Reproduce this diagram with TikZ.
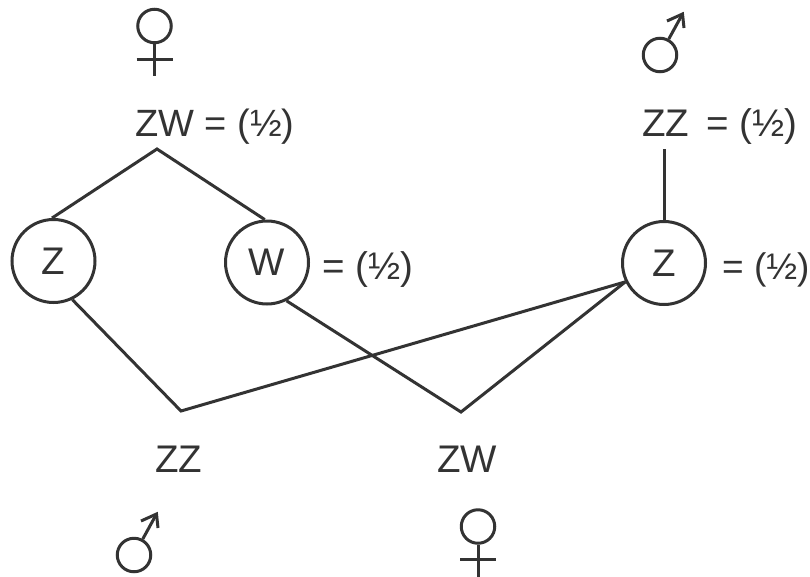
\documentclass[tikz,border=0pt]{standalone}
\usepackage{fontspec}
\setmainfont{Liberation Sans}
\definecolor{ink}{HTML}{333333}
\tikzset{
  x=1pt,y=-1pt,
  conn/.style={draw=ink,line width=3pt},
  allele/.style={circle,draw=ink,line width=3pt,minimum size=83pt,inner sep=0pt,text=ink,font=\fontsize{38.5}{38.5}\selectfont},
  lab/.style={inner sep=0pt,text=ink,font=\fontsize{38.5}{38.5}\selectfont,anchor=base west},
  midlab/.style={lab,font=\fontsize{38}{38}\selectfont},
  tightlab/.style={lab,font=\fontsize{37}{37}\selectfont},
  ring/.style={circle,draw=ink,line width=3pt,minimum size=33.5pt,inner sep=0pt},
  signline/.style={draw=ink,line width=3pt},
  pics/femalesign/.style={code={
    \node[ring] (-r) at (0,0) {};
    \coordinate (-e) at (0,50);
    \coordinate (-a) at (-18,33);
    \coordinate (-b) at (18,33);
    \draw[signline] (-r) -- (-e);
    \draw[signline] (-a) -- (-b);
  }},
  pics/malesign/.style={code={
    \node[ring] (-r) at (0,0) {};
    \coordinate (-t) at (22.5,-41);
    \coordinate (-a) at (7,-34);
    \coordinate (-b) at (24,-27);
    \draw[signline] (-r) -- (-t);
    \draw[signline,miter limit=10] (-a) -- (-t) -- (-b);
  }}
}
\begin{document}
\begin{tikzpicture}
\useasboundingbox (0,0) rectangle (810,576);
\node[allele] (zl) at (53.5,261) {\raisebox{-3pt}{Z}};
\node[allele] (w) at (267,262.5) {\raisebox{-3pt}{W}};
\node[allele] (zr) at (664,263) {\raisebox{-3pt}{Z}};
\coordinate (ptop) at (157,149);
\coordinate (zzj) at (181,411);
\coordinate (zwj) at (461,412);
\coordinate (ztop) at (664,149);
\node[midlab] (l1) at (135,136) {ZW = (½)};
\node[lab] (l2) at (642,136) {ZZ\, = (½)};
\node[lab] (l3) at (322,279) {= (½)};
\node[tightlab] (l4) at (722,279) {= (½)};
\node[lab] (l5) at (155,472) {ZZ};
\node[lab] (l6) at (437,472) {ZW};
\pic (f1) at (154.5,26) {femalesign};
\pic (m1) at (660,55) {malesign};
\pic (m2) at (134,555) {malesign};
\pic (f2) at (478,526.5) {femalesign};
\draw[conn] (zl.92) -- (ptop) -- (w.93);
\draw[conn] (ztop) -- (zr.90);
\draw[conn] (zl.-64) -- (zzj) -- (zr.206);
\draw[conn] (w.-63) -- (zwj) -- (zr.206);
\end{tikzpicture}
\end{document}
